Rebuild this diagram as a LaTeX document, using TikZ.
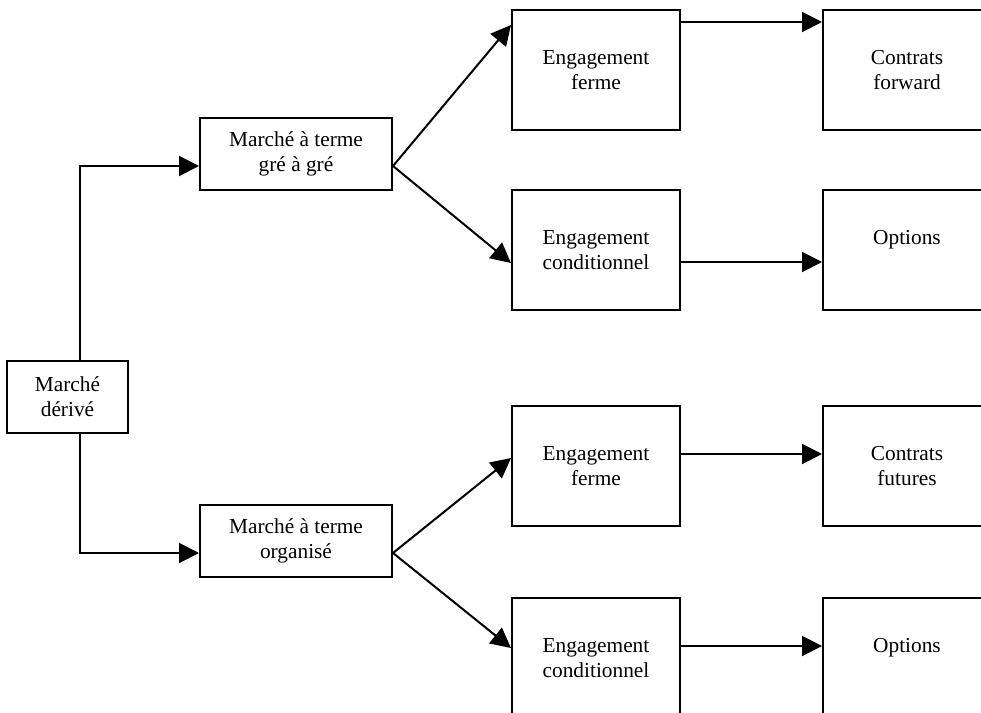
\documentclass[tikz,border=0pt]{standalone}
\usepackage{fontspec}
\setmainfont{Liberation Serif}
\usetikzlibrary{arrows.meta}
\begin{document}
\begin{tikzpicture}[x=0.75pt,y=-0.75pt,
  box/.style={draw,line width=1.5pt,inner sep=0pt,align=center,
    font=\fontsize{16pt}{18.5pt}\selectfont},
  smallbox/.style={box,minimum width=144pt,minimum height=54pt},
  bigbox/.style={box,minimum width=126pt,minimum height=90pt},
  arr/.style={line width=1.5pt,-{Triangle[length=15pt,width=15pt]}}]
\useasboundingbox (0,0) rectangle (981,713);
\clip (0,0) rectangle (981,713);
\fill[white] (0,0) rectangle (981,713);
% nodes
\node[box,minimum width=90.75pt,minimum height=54pt] (derive) at (67.5,397) {Marché\\dérivé};
\node[smallbox] (gre) at (296,154) {Marché à terme\\gré à gré};
\node[smallbox] (org) at (296,541) {Marché à terme\\organisé};
\node[bigbox] (f1) at (596,70) {Engagement\\ferme};
\node[bigbox] (c1) at (596,250) {Engagement\\conditionnel};
\node[bigbox] (f2) at (596,466) {Engagement\\ferme};
\node[bigbox] (c2) at (596,658) {Engagement\\conditionnel};
\node[bigbox] (cf) at (907,70) {Contrats\\forward};
\node[bigbox] (o1) at (907,250) {Options\\\mbox{}};
\node[bigbox] (cfu) at (907,466) {Contrats\\futures};
\node[bigbox] (o2) at (907,658) {Options\\\mbox{}};
\coordinate (spine) at (80,0);
% connectors
\draw[arr] (derive.north -| spine) |- ([yshift=-9pt]gre.west);
\draw[arr] (derive.south -| spine) |- ([yshift=-9pt]org.west);
\draw[arr] ([yshift=-9pt]gre.east) -- ([yshift=33.75pt]f1.west);
\draw[arr] ([yshift=-9pt]gre.east) -- ([yshift=-9.75pt]c1.west);
\draw[arr] ([yshift=-9pt]org.east) -- ([yshift=6pt]f2.west);
\draw[arr] ([yshift=-9pt]org.east) -- ([yshift=7.5pt]c2.west);
\draw[arr] ([yshift=36pt]f1.east) -- ([yshift=36pt]f1.east -| cf.west);
\draw[arr] ([yshift=-9pt]c1.east) -- ([yshift=-9pt]c1.east -| o1.west);
\draw[arr] ([yshift=9pt]f2.east) -- ([yshift=9pt]f2.east -| cfu.west);
\draw[arr] ([yshift=9pt]c2.east) -- ([yshift=9pt]c2.east -| o2.west);
\end{tikzpicture}
\end{document}
